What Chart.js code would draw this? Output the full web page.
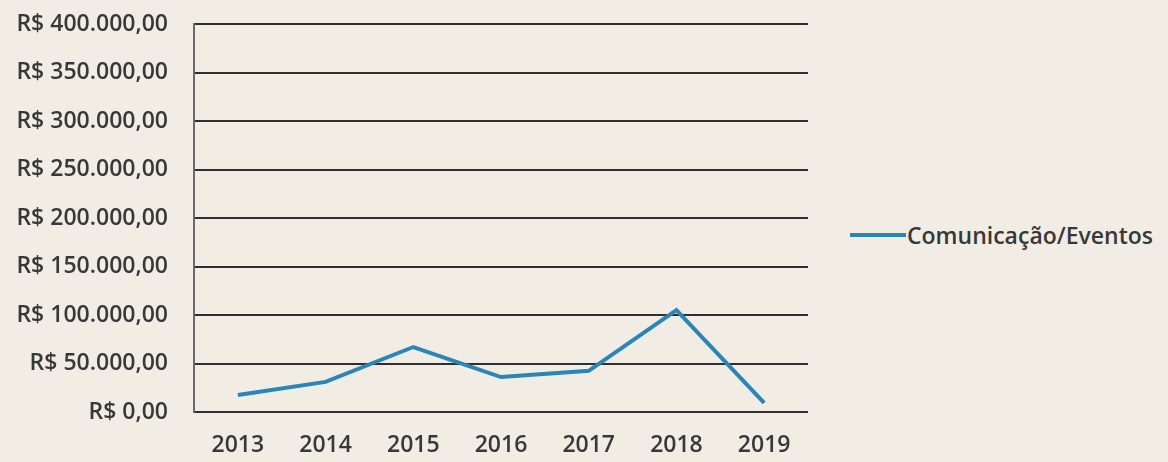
<!DOCTYPE html>
<html>
<head>
<meta charset="utf-8">
<script src="https://cdn.jsdelivr.net/npm/chart.js@4.4.0/dist/chart.umd.min.js"></script>
<style>
  html, body { margin: 0; padding: 0; background: #f1ede5; }
  #wrap { position: absolute; left: 0; top: 0; width: 830px; height: 462px; }
  #legend { position: absolute; left: 850px; top: 219px; font-family: "Open Sans", sans-serif; font-size: 23px; font-weight: 600; color: #383838; display: flex; align-items: center; }
  #legend span.sw { display: inline-block; width: 56px; height: 4px; background: #2a86b6; margin-right: 1px; }
</style>
</head>
<body>
<div id="wrap"><canvas id="lineChart"></canvas></div>
<div id="legend"><span class="sw"></span><span>Comunicação/Eventos</span></div>
<script>
const years = ['2013', '2014', '2015', '2016', '2017', '2018', '2019'];
const comunicacaoEventos = [17500, 31000, 67000, 36000, 42500, 105000, 9500];
const yTicks = [0, 50000, 100000, 150000, 200000, 250000, 300000, 350000, 400000];

function formatBRL(v) {
  if (v === 0) return 'R$ 0,00';
  return 'R$ ' + v.toLocaleString('pt-BR') + ',00';
}

const tickFont = { family: 'Open Sans', size: 23, weight: '600' };

const ctx = document.getElementById('lineChart').getContext('2d');
new Chart(ctx, {
  type: 'line',
  data: {
    labels: years,
    datasets: [{
      label: 'Comunicação/Eventos',
      data: comunicacaoEventos,
      borderColor: '#2a86b6',
      borderWidth: 4,
      pointRadius: 0,
      tension: 0,
      fill: false
    }]
  },
  options: {
    responsive: true,
    maintainAspectRatio: false,
    animation: false,
    layout: { padding: { top: 24, right: 22, left: 0, bottom: 0 } },
    plugins: {
      legend: { display: false },
      tooltip: { enabled: false }
    },
    scales: {
      x: {
        offset: true,
        grid: { display: false, drawTicks: false },
        border: { display: false },
        ticks: {
          color: '#383838',
          font: tickFont,
          padding: 20
        },
        afterFit: (scale) => { scale.height = 50; }
      },
      y: {
        min: 0,
        max: 400000,
        afterBuildTicks: (scale) => { scale.ticks = yTicks.map(v => ({ value: v })); },
        grid: { color: '#2f2f2f', lineWidth: 2, drawTicks: false },
        border: { display: true, color: '#6a6a6a', width: 2 },
        ticks: {
          color: '#383838',
          font: tickFont,
          padding: 26,
          callback: (v) => formatBRL(v)
        },
        afterFit: (scale) => {
          scale.width = 194;
          scale.paddingTop = 0;
          scale.paddingBottom = 0;
        }
      }
    }
  }
});
</script>
</body>
</html>
